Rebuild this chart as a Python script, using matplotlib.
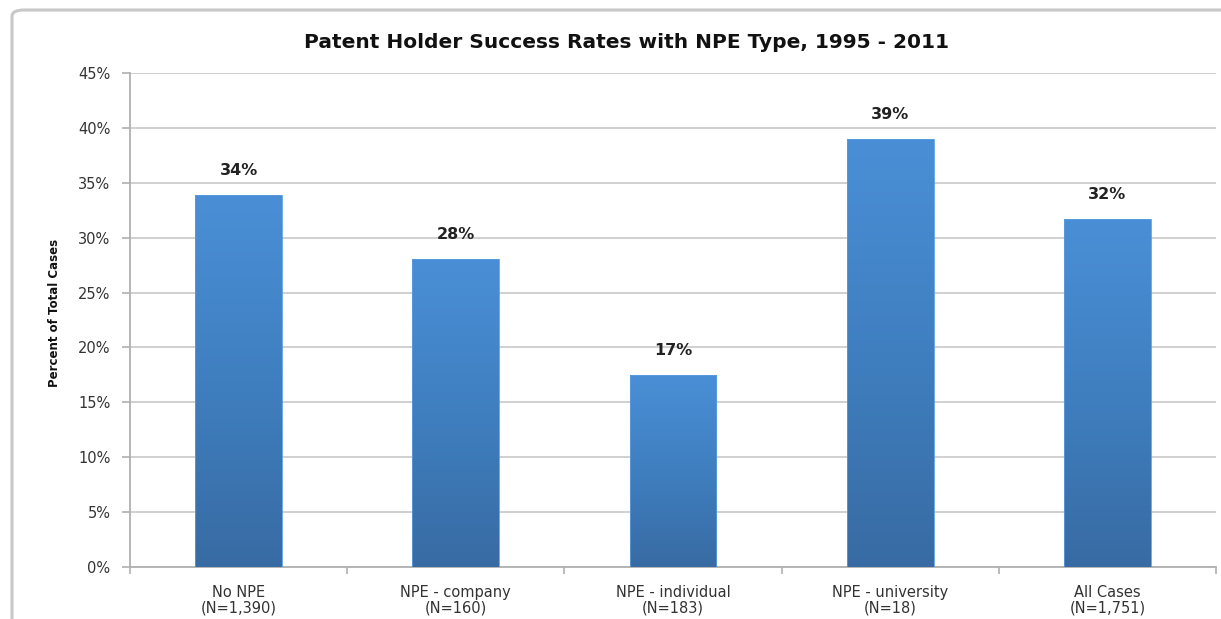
import matplotlib
matplotlib.use("Agg")
import matplotlib.pyplot as plt
import numpy as np
from matplotlib.colors import LinearSegmentedColormap
from matplotlib.patches import FancyBboxPatch
from matplotlib.ticker import FixedLocator, PercentFormatter

categories = ["No NPE\n(N=1,390)", "NPE - company\n(N=160)", "NPE - individual\n(N=183)",
              "NPE - university\n(N=18)", "All Cases\n(N=1,751)"]
values = [33.9, 28.1, 17.5, 39.0, 31.7]
value_labels = ["34%", "28%", "17%", "39%", "32%"]
yticks = [0, 5, 10, 15, 20, 25, 30, 35, 40, 45]

fig = plt.figure(figsize=(12.21, 6.19), dpi=100)
ax = fig.add_axes([130 / 1221, 1 - 567 / 619, (1216 - 130) / 1221, (567 - 73) / 619])

# outer chart frame (rounded, runs off the right/bottom edge)
frame = FancyBboxPatch((12 / 1221, -0.05), 1.1, 1 - 10 / 619 + 0.05,
                       boxstyle="round,pad=0,rounding_size=0.01",
                       transform=fig.transFigure, fill=False,
                       edgecolor="#c8c8c8", linewidth=2.2, zorder=0)
fig.patches.append(frame)

x = np.arange(len(values))
bars = ax.bar(x, values, width=0.4, color="none", edgecolor="none", zorder=3)

cmap = LinearSegmentedColormap.from_list("bar", ["#386ba3", "#3f7fc0", "#4a8fd6"])
grad = np.linspace(0, 1, 256).reshape(-1, 1)
for b in bars:
    x0, w, h = b.get_x(), b.get_width(), b.get_height()
    im = ax.imshow(grad, cmap=cmap, origin="lower", aspect="auto",
                   extent=[x0, x0 + w, 0, h], zorder=3)
    im.set_clip_path(b)
    ax.add_patch(plt.Rectangle((x0, 0), w, h, fill=False, edgecolor="#5a9ae0",
                               linewidth=0.6, zorder=4))

for xi, v, lab in zip(x, values, value_labels):
    ax.annotate(lab, (xi, v), xytext=(0, 12), textcoords="offset points",
                ha="center", va="bottom", fontsize=11.5, fontweight="bold", color="#222222")

ax.set_xlim(-0.5, len(values) - 0.5)
ax.set_ylim(0, 45)
ax.set_yticks(yticks)
ax.yaxis.set_major_formatter(PercentFormatter(decimals=0))
ax.set_xticks(x)
ax.set_xticklabels(categories, fontsize=10.5, color="#333333", linespacing=1.05)
ax.xaxis.set_minor_locator(FixedLocator(np.arange(-0.5, len(values), 1)))
ax.tick_params(axis="x", which="major", length=0, pad=13)
ax.tick_params(axis="x", which="minor", length=5, color="#b0b0b0", width=1.2)
ax.tick_params(axis="y", labelsize=10.5, labelcolor="#333333", length=6,
               color="#b0b0b0", width=1.2, pad=8)

ax.grid(True, axis="y", color="#c8c8c8", linewidth=1.2, zorder=0)
ax.set_axisbelow(True)
for s in ["top", "right"]:
    ax.spines[s].set_visible(False)
for s in ["left", "bottom"]:
    ax.spines[s].set_color("#b0b0b0")
    ax.spines[s].set_linewidth(1.3)

fig.text(55 / 1221, 1 - 313 / 619, "Percent of Total Cases", rotation=90,
         ha="center", va="center", fontsize=8.5, fontweight="bold", color="#111111")
fig.text(626 / 1221, 1 - 42 / 619, "Patent Holder Success Rates with NPE Type, 1995 - 2011",
         ha="center", va="center", fontsize=14.5, fontweight="bold", color="#111111")

fig.savefig("out.png", dpi=100)
